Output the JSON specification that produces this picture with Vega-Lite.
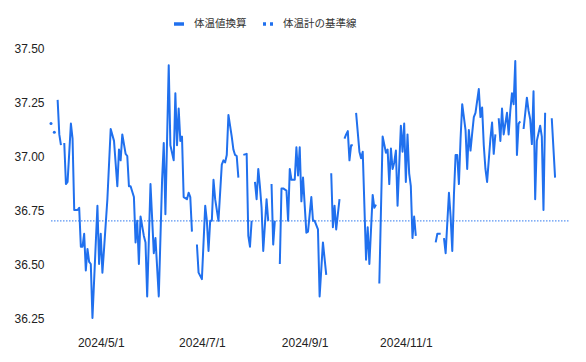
{
  "$schema": "https://vega.github.io/schema/vega-lite/v6.json",
  "width": 519,
  "height": 270,
  "autosize": {"type": "none"},
  "padding": {"left": 51, "top": 48, "right": 16, "bottom": 44},
  "background": "white",
  "config": {"view": {"stroke": null}, "font": "Liberation Sans"},
  "datasets": {
    "temps": [
      {"date": "2024/04/05", "temp": 37.26},
      {"date": "2024/04/06", "temp": 37.10},
      {"date": "2024/04/07", "temp": 37.05},
      {"date": "2024/04/08", "temp": null},
      {"date": "2024/04/09", "temp": 37.06},
      {"date": "2024/04/10", "temp": 36.87},
      {"date": "2024/04/11", "temp": 36.88},
      {"date": "2024/04/13", "temp": 37.15},
      {"date": "2024/04/14", "temp": 37.08},
      {"date": "2024/04/15", "temp": 36.75},
      {"date": "2024/04/17", "temp": 36.75},
      {"date": "2024/04/18", "temp": 36.76},
      {"date": "2024/04/19", "temp": 36.58},
      {"date": "2024/04/20", "temp": 36.58},
      {"date": "2024/04/21", "temp": 36.64},
      {"date": "2024/04/22", "temp": 36.47},
      {"date": "2024/04/23", "temp": 36.57},
      {"date": "2024/04/24", "temp": 36.51},
      {"date": "2024/04/25", "temp": 36.50},
      {"date": "2024/04/26", "temp": 36.25},
      {"date": "2024/04/29", "temp": 36.77},
      {"date": "2024/04/30", "temp": 36.50},
      {"date": "2024/05/01", "temp": 36.64},
      {"date": "2024/05/02", "temp": 36.46},
      {"date": "2024/05/03", "temp": 36.57},
      {"date": "2024/05/05", "temp": 36.80},
      {"date": "2024/05/07", "temp": 37.125},
      {"date": "2024/05/09", "temp": 37.07},
      {"date": "2024/05/11", "temp": 36.86},
      {"date": "2024/05/12", "temp": 37.03},
      {"date": "2024/05/13", "temp": 36.98},
      {"date": "2024/05/14", "temp": 37.10},
      {"date": "2024/05/16", "temp": 37.01},
      {"date": "2024/05/17", "temp": 37.00},
      {"date": "2024/05/18", "temp": 36.86},
      {"date": "2024/05/19", "temp": 36.86},
      {"date": "2024/05/21", "temp": 36.81},
      {"date": "2024/05/22", "temp": 36.60},
      {"date": "2024/05/23", "temp": 36.70},
      {"date": "2024/05/24", "temp": 36.50},
      {"date": "2024/05/25", "temp": 36.72},
      {"date": "2024/05/27", "temp": 36.63},
      {"date": "2024/05/28", "temp": 36.60},
      {"date": "2024/05/29", "temp": 36.35},
      {"date": "2024/05/31", "temp": 36.87},
      {"date": "2024/06/02", "temp": 36.55},
      {"date": "2024/06/03", "temp": 36.62},
      {"date": "2024/06/05", "temp": 36.35},
      {"date": "2024/06/07", "temp": 36.89},
      {"date": "2024/06/08", "temp": 37.06},
      {"date": "2024/06/09", "temp": 36.73},
      {"date": "2024/06/11", "temp": 37.42},
      {"date": "2024/06/12", "temp": 37.05},
      {"date": "2024/06/14", "temp": 36.98},
      {"date": "2024/06/15", "temp": 37.29},
      {"date": "2024/06/16", "temp": 37.05},
      {"date": "2024/06/17", "temp": 37.22},
      {"date": "2024/06/18", "temp": 37.07},
      {"date": "2024/06/19", "temp": 37.09},
      {"date": "2024/06/20", "temp": 36.81},
      {"date": "2024/06/22", "temp": 36.80},
      {"date": "2024/06/23", "temp": 36.83},
      {"date": "2024/06/24", "temp": 36.81},
      {"date": "2024/06/25", "temp": 36.65},
      {"date": "2024/06/26", "temp": null},
      {"date": "2024/06/28", "temp": 36.59},
      {"date": "2024/06/29", "temp": 36.46},
      {"date": "2024/07/01", "temp": 36.43},
      {"date": "2024/07/03", "temp": 36.77},
      {"date": "2024/07/04", "temp": 36.70},
      {"date": "2024/07/05", "temp": 36.56},
      {"date": "2024/07/06", "temp": 36.70},
      {"date": "2024/07/07", "temp": 36.70},
      {"date": "2024/07/08", "temp": 36.89},
      {"date": "2024/07/09", "temp": 36.80},
      {"date": "2024/07/11", "temp": 36.70},
      {"date": "2024/07/13", "temp": 36.96},
      {"date": "2024/07/14", "temp": 36.98},
      {"date": "2024/07/15", "temp": 36.97},
      {"date": "2024/07/16", "temp": 37.005},
      {"date": "2024/07/17", "temp": 37.19},
      {"date": "2024/07/19", "temp": 37.09},
      {"date": "2024/07/20", "temp": 37.03},
      {"date": "2024/07/21", "temp": 37.005},
      {"date": "2024/07/22", "temp": 37.00},
      {"date": "2024/07/23", "temp": 36.90},
      {"date": "2024/07/24", "temp": null},
      {"date": "2024/07/26", "temp": 37.005},
      {"date": "2024/07/28", "temp": 37.01},
      {"date": "2024/07/29", "temp": 36.63},
      {"date": "2024/07/30", "temp": 36.58},
      {"date": "2024/07/31", "temp": 36.70},
      {"date": "2024/08/01", "temp": null},
      {"date": "2024/08/02", "temp": 36.88},
      {"date": "2024/08/03", "temp": 36.80},
      {"date": "2024/08/04", "temp": 36.94},
      {"date": "2024/08/05", "temp": 36.86},
      {"date": "2024/08/06", "temp": 36.76},
      {"date": "2024/08/07", "temp": 36.56},
      {"date": "2024/08/09", "temp": 36.80},
      {"date": "2024/08/10", "temp": 36.70},
      {"date": "2024/08/11", "temp": null},
      {"date": "2024/08/12", "temp": 36.87},
      {"date": "2024/08/13", "temp": 36.59},
      {"date": "2024/08/14", "temp": 36.70},
      {"date": "2024/08/15", "temp": null},
      {"date": "2024/08/17", "temp": 36.50},
      {"date": "2024/08/18", "temp": 36.85},
      {"date": "2024/08/19", "temp": 36.85},
      {"date": "2024/08/21", "temp": 36.84},
      {"date": "2024/08/22", "temp": 36.70},
      {"date": "2024/08/23", "temp": 36.94},
      {"date": "2024/08/24", "temp": 36.89},
      {"date": "2024/08/26", "temp": 36.89},
      {"date": "2024/08/27", "temp": 37.04},
      {"date": "2024/08/28", "temp": 36.91},
      {"date": "2024/08/29", "temp": 37.04},
      {"date": "2024/08/30", "temp": 36.79},
      {"date": "2024/08/31", "temp": 36.90},
      {"date": "2024/09/02", "temp": 36.645},
      {"date": "2024/09/03", "temp": 36.65},
      {"date": "2024/09/05", "temp": 36.81},
      {"date": "2024/09/06", "temp": 36.70},
      {"date": "2024/09/07", "temp": 36.70},
      {"date": "2024/09/09", "temp": 36.66},
      {"date": "2024/09/10", "temp": 36.35},
      {"date": "2024/09/12", "temp": 36.60},
      {"date": "2024/09/14", "temp": 36.45},
      {"date": "2024/09/15", "temp": null},
      {"date": "2024/09/17", "temp": 36.92},
      {"date": "2024/09/18", "temp": 36.67},
      {"date": "2024/09/19", "temp": 36.77},
      {"date": "2024/09/20", "temp": 36.66},
      {"date": "2024/09/22", "temp": 36.80},
      {"date": "2024/09/23", "temp": null},
      {"date": "2024/09/25", "temp": 37.08},
      {"date": "2024/09/26", "temp": 37.10},
      {"date": "2024/09/27", "temp": 37.115},
      {"date": "2024/09/28", "temp": 36.98},
      {"date": "2024/09/29", "temp": 37.05},
      {"date": "2024/09/30", "temp": 37.05},
      {"date": "2024/10/01", "temp": null},
      {"date": "2024/10/02", "temp": 37.20},
      {"date": "2024/10/04", "temp": 37.02},
      {"date": "2024/10/05", "temp": 36.99},
      {"date": "2024/10/06", "temp": 37.02},
      {"date": "2024/10/08", "temp": 36.52},
      {"date": "2024/10/09", "temp": 36.67},
      {"date": "2024/10/10", "temp": 36.50},
      {"date": "2024/10/12", "temp": 36.82},
      {"date": "2024/10/13", "temp": 36.76},
      {"date": "2024/10/14", "temp": 36.775},
      {"date": "2024/10/15", "temp": null},
      {"date": "2024/10/16", "temp": 36.41},
      {"date": "2024/10/18", "temp": 37.09},
      {"date": "2024/10/20", "temp": 37.015},
      {"date": "2024/10/21", "temp": 37.03},
      {"date": "2024/10/22", "temp": 36.87},
      {"date": "2024/10/23", "temp": 37.035},
      {"date": "2024/10/24", "temp": 36.94},
      {"date": "2024/10/25", "temp": 36.97},
      {"date": "2024/10/26", "temp": 37.025},
      {"date": "2024/10/27", "temp": 36.77},
      {"date": "2024/10/29", "temp": 37.14},
      {"date": "2024/10/30", "temp": 37.02},
      {"date": "2024/10/31", "temp": 37.15},
      {"date": "2024/11/01", "temp": 36.88},
      {"date": "2024/11/02", "temp": 37.10},
      {"date": "2024/11/03", "temp": 36.92},
      {"date": "2024/11/04", "temp": 36.86},
      {"date": "2024/11/05", "temp": 36.62},
      {"date": "2024/11/06", "temp": 36.72},
      {"date": "2024/11/07", "temp": 36.63},
      {"date": "2024/11/08", "temp": null},
      {"date": "2024/11/19", "temp": 36.60},
      {"date": "2024/11/20", "temp": 36.64},
      {"date": "2024/11/22", "temp": 36.64},
      {"date": "2024/11/23", "temp": null},
      {"date": "2024/11/24", "temp": 36.62},
      {"date": "2024/11/25", "temp": 36.55},
      {"date": "2024/11/27", "temp": 36.83},
      {"date": "2024/11/28", "temp": 36.72},
      {"date": "2024/11/29", "temp": 36.56},
      {"date": "2024/11/30", "temp": 36.82},
      {"date": "2024/12/01", "temp": 37.005},
      {"date": "2024/12/02", "temp": 37.005},
      {"date": "2024/12/03", "temp": 36.87},
      {"date": "2024/12/04", "temp": 37.08},
      {"date": "2024/12/05", "temp": 37.24},
      {"date": "2024/12/07", "temp": 37.12},
      {"date": "2024/12/08", "temp": 36.94},
      {"date": "2024/12/09", "temp": 37.12},
      {"date": "2024/12/10", "temp": 37.025},
      {"date": "2024/12/11", "temp": 37.105},
      {"date": "2024/12/12", "temp": 37.18},
      {"date": "2024/12/13", "temp": 37.20},
      {"date": "2024/12/15", "temp": 37.31},
      {"date": "2024/12/16", "temp": 37.18},
      {"date": "2024/12/17", "temp": 37.225},
      {"date": "2024/12/18", "temp": 37.05},
      {"date": "2024/12/19", "temp": 36.94},
      {"date": "2024/12/20", "temp": 36.88},
      {"date": "2024/12/22", "temp": 37.08},
      {"date": "2024/12/23", "temp": 37.155},
      {"date": "2024/12/24", "temp": 37.01},
      {"date": "2024/12/25", "temp": 37.10},
      {"date": "2024/12/26", "temp": null},
      {"date": "2024/12/27", "temp": 37.175},
      {"date": "2024/12/28", "temp": 37.07},
      {"date": "2024/12/29", "temp": 37.22},
      {"date": "2024/12/30", "temp": 37.10},
      {"date": "2025/01/01", "temp": 37.20},
      {"date": "2025/01/02", "temp": 37.10},
      {"date": "2025/01/03", "temp": 37.21},
      {"date": "2025/01/04", "temp": 37.29},
      {"date": "2025/01/05", "temp": 37.24},
      {"date": "2025/01/06", "temp": 37.44},
      {"date": "2025/01/07", "temp": 37.005},
      {"date": "2025/01/08", "temp": 37.15},
      {"date": "2025/01/09", "temp": 37.16},
      {"date": "2025/01/10", "temp": null},
      {"date": "2025/01/11", "temp": 37.125},
      {"date": "2025/01/13", "temp": 37.27},
      {"date": "2025/01/14", "temp": 37.21},
      {"date": "2025/01/15", "temp": 37.17},
      {"date": "2025/01/16", "temp": 37.055},
      {"date": "2025/01/17", "temp": 37.30},
      {"date": "2025/01/18", "temp": 36.80},
      {"date": "2025/01/19", "temp": 37.07},
      {"date": "2025/01/21", "temp": 37.14},
      {"date": "2025/01/22", "temp": 37.09},
      {"date": "2025/01/23", "temp": 36.75},
      {"date": "2025/01/24", "temp": 37.20},
      {"date": "2025/01/25", "temp": null},
      {"date": "2025/01/28", "temp": 37.175},
      {"date": "2025/01/30", "temp": 36.90}
    ],
    "singles": [
      {"date": "2024/04/01", "temp": 37.15},
      {"date": "2024/04/03", "temp": 37.11}
    ],
    "baseline": [
      {"date": "2024/04/01", "temp": 36.7},
      {"date": "2025/02/08", "temp": 36.7}
    ]
  },
  "encoding": {
    "x": {
      "field": "date",
      "type": "temporal",
      "scale": {"domain": [{"year": 2024, "month": 4, "date": 1}, {"year": 2025, "month": 2, "date": 8}]},
      "axis": {
        "title": null,
        "values": [
          {"year": 2024, "month": 5, "date": 1},
          {"year": 2024, "month": 7, "date": 1},
          {"year": 2024, "month": 9, "date": 1},
          {"year": 2024, "month": 11, "date": 1}
        ],
        "format": "%Y/%-m/%-d",
        "domain": false,
        "ticks": false,
        "grid": false,
        "labelPadding": 19,
        "labelFontSize": 12,
        "labelColor": "#222222"
      }
    },
    "y": {
      "field": "temp",
      "type": "quantitative",
      "scale": {"domain": [36.25, 37.5], "nice": false, "zero": false},
      "axis": {
        "title": null,
        "values": [36.25, 36.5, 36.75, 37, 37.25, 37.5],
        "format": ".2f",
        "domain": false,
        "ticks": false,
        "grid": false,
        "labelPadding": 7,
        "labelFontSize": 12,
        "labelColor": "#222222"
      }
    }
  },
  "layer": [
    {
      "data": {"name": "baseline"},
      "mark": {"type": "line", "strokeWidth": 1.2, "strokeDash": [1.5, 1.5], "opacity": 0.75},
      "encoding": {
        "color": {
          "datum": "体温計の基準線",
          "type": "nominal",
          "scale": {"domain": ["体温値換算", "体温計の基準線"], "range": ["#2070ee", "#2070ee"]},
          "legend": {
            "orient": "none",
            "legendX": 121,
            "legendY": -31,
            "direction": "horizontal",
            "title": null,
            "symbolType": "stroke",
            "symbolStrokeWidth": 3.5,
            "symbolSize": 100,
            "symbolOpacity": 1,
            "labelFontSize": 10.5,
            "labelFont": "Noto Sans CJK JP",
            "labelColor": "#333333",
            "columnPadding": 9,
            "labelOffset": 8,
            "encode": {
              "symbols": {
                "update": {
                  "strokeDash": {"signal": "datum.value === '体温計の基準線' ? [3, 4] : null"},
                  "opacity": {"value": 1}
                }
              }
            }
          }
        }
      }
    },
    {
      "data": {"name": "temps"},
      "mark": {"type": "line", "strokeWidth": 2, "strokeJoin": "round"},
      "encoding": {
        "color": {"datum": "体温値換算", "type": "nominal"}
      }
    },
    {
      "data": {"name": "singles"},
      "mark": {"type": "point", "filled": true, "size": 9, "opacity": 1, "color": "#2070ee"}
    }
  ]
}
